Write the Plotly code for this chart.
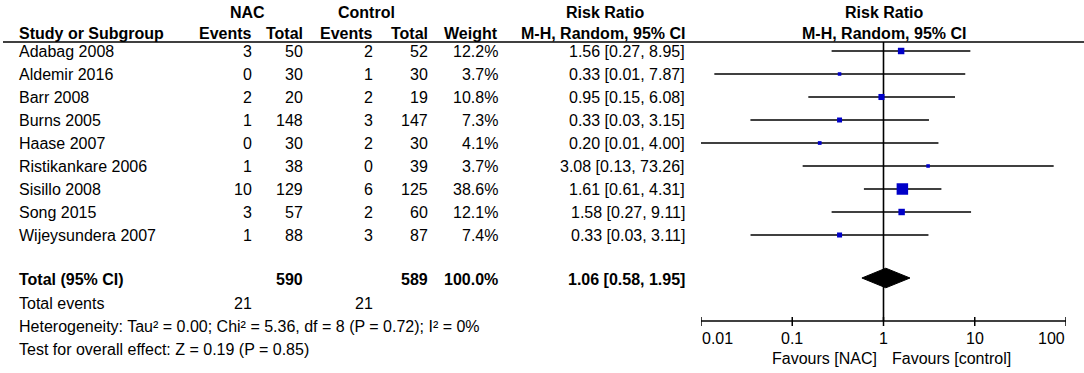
import math
import plotly.graph_objects as go

# ---------------- data ----------------
studies = ["Adabag 2008", "Aldemir 2016", "Barr 2008", "Burns 2005", "Haase 2007",
           "Ristikankare 2006", "Sisillo 2008", "Song 2015", "Wijeysundera 2007"]
nac_events = [3, 0, 2, 1, 0, 1, 10, 3, 1]
nac_total = [50, 30, 20, 148, 30, 38, 129, 57, 88]
ctrl_events = [2, 1, 2, 3, 2, 0, 6, 2, 3]
ctrl_total = [52, 30, 19, 147, 30, 39, 125, 60, 87]
weights = [12.2, 3.7, 10.8, 7.3, 4.1, 3.7, 38.6, 12.1, 7.4]
rr = [1.56, 0.33, 0.95, 0.33, 0.20, 3.08, 1.61, 1.58, 0.33]
ci_lo = [0.27, 0.014, 0.15, 0.0348, 0.0100, 0.13, 0.61, 0.27, 0.0349]
ci_hi = [8.95, 7.87, 6.08, 3.15, 4.00, 73.26, 4.31, 9.11, 3.11]

total_nac = 590
total_ctrl = 589
total_weight = 100.0
total_rr = 1.06
total_lo = 0.58
total_hi = 1.95
total_events_nac = 21
total_events_ctrl = 21
heterogeneity = "Heterogeneity: Tau² = 0.00; Chi² = 5.36, df = 8 (P = 0.72); I² = 0%"
overall = "Test for overall effect: Z = 0.19 (P = 0.85)"

tick_vals = [0.01, 0.1, 1, 10, 100]
tick_text = ["0.01", "0.1", "1", "10", "100"]

# ---------------- layout constants (pixels) ----------------
W, H = 1084, 373
FONT = "Arial, Liberation Sans, sans-serif"
FS = 16
row_y0, row_dy = 51, 23
total_y = 279
events_y = 303
het_y = 326
test_y = 349
axis_y = 321
header1_y = 12
header2_y = 33
hline_y = 42

col_name = 17
col_ne = 254
col_nt = 305
col_ce = 375
col_ct = 430
col_w = 500
col_rr = 687

def px(x):
    return x / W

fig = go.Figure()
ann = []

def text(x, y, s, anchor="left", bold=False, size=FS):
    ann.append(dict(x=px(x), y=y, xref="paper", yref="y", text=f"<b>{s}</b>" if bold else s,
                    showarrow=False, xanchor=anchor, yanchor="middle",
                    font=dict(family=FONT, size=size, color="black")))

# headers
text(247, header1_y, "NAC", "center", True)
text(366, header1_y, "Control", "center", True)
text(605, header1_y, "Risk Ratio", "center", True)
text(col_name, header2_y, "Study or Subgroup", "left", True)
text(col_ne, header2_y, "Events", "right", True)
text(col_nt, header2_y, "Total", "right", True)
text(col_ce, header2_y, "Events", "right", True)
text(col_ct, header2_y, "Total", "right", True)
text(col_w, header2_y, "Weight", "right", True)
text(col_rr, header2_y, "M-H, Random, 95% CI", "right", True)
ann.append(dict(x=0, y=header1_y, xref="x", yref="y", text="<b>Risk Ratio</b>", showarrow=False,
                xanchor="center", yanchor="middle", font=dict(family=FONT, size=FS, color="black")))
ann.append(dict(x=0, y=header2_y, xref="x", yref="y", text="<b>M-H, Random, 95% CI</b>", showarrow=False,
                xanchor="center", yanchor="middle", font=dict(family=FONT, size=FS, color="black")))

row_ys = []
for i, s in enumerate(studies):
    y = row_y0 + row_dy * i
    row_ys.append(y)
    text(col_name, y, s)
    text(col_ne, y, str(nac_events[i]), "right")
    text(col_nt, y, str(nac_total[i]), "right")
    text(col_ce, y, str(ctrl_events[i]), "right")
    text(col_ct, y, str(ctrl_total[i]), "right")
    text(col_w, y, f"{weights[i]:.1f}%", "right")
    text(col_rr, y, f"{rr[i]:.2f} [{ci_lo[i]:.2f}, {ci_hi[i]:.2f}]", "right")

text(col_name, total_y, "Total (95% CI)", "left", True)
text(col_nt, total_y, str(total_nac), "right", True)
text(col_ct, total_y, str(total_ctrl), "right", True)
text(col_w, total_y, f"{total_weight:.1f}%", "right", True)
text(col_rr, total_y, f"{total_rr:.2f} [{total_lo:.2f}, {total_hi:.2f}]", "right", True)
text(col_name, events_y, "Total events")
text(col_ne, events_y, str(total_events_nac), "right")
text(col_ce, events_y, str(total_events_ctrl), "right")
text(col_name, het_y, heterogeneity)
text(col_name, test_y, overall)

# tick labels (ends kept inside the axis span)
for v, t in zip(tick_vals, tick_text):
    anchor = "center"
    if v == tick_vals[0]:
        anchor = "left"
    elif v == tick_vals[-1]:
        anchor = "right"
    ann.append(dict(x=math.log10(v), y=338, xref="x", yref="y", text=t, showarrow=False,
                    xanchor=anchor, yanchor="middle", xshift=(-1 if anchor == "left" else (1 if anchor == "right" else 0)),
                    font=dict(family=FONT, size=FS, color="black")))
ann.append(dict(x=0, y=358, xref="x", yref="y", text="Favours [NAC]", showarrow=False,
                xanchor="right", yanchor="middle", xshift=-5, font=dict(family=FONT, size=FS, color="black")))
ann.append(dict(x=0, y=358, xref="x", yref="y", text="Favours [control]", showarrow=False,
                xanchor="left", yanchor="middle", xshift=6, font=dict(family=FONT, size=FS, color="black")))

# CI lines
cx, cy = [], []
for lo, hi, y in zip(ci_lo, ci_hi, row_ys):
    cx += [lo, hi, None]
    cy += [y, y, None]
fig.add_trace(go.Scatter(x=cx, y=cy, mode="lines", line=dict(color="black", width=1.4),
                         hoverinfo="skip", showlegend=False))

# reference line at 1
fig.add_trace(go.Scatter(x=[1, 1], y=[hline_y, axis_y], mode="lines",
                         line=dict(color="black", width=1.6), hoverinfo="skip", showlegend=False))

# axis line with ticks
axx, axy = [tick_vals[0], tick_vals[-1], None], [axis_y, axis_y, None]
for v in tick_vals:
    axx += [v, v, None]
    axy += [axis_y - 4, axis_y + 5, None]
fig.add_trace(go.Scatter(x=axx, y=axy, mode="lines", line=dict(color="black", width=1.5),
                         hoverinfo="skip", showlegend=False))

# squares
sizes = [11.5 * math.sqrt(w / max(weights)) for w in weights]
fig.add_trace(go.Scatter(x=rr, y=row_ys, mode="markers",
                         marker=dict(symbol="square", size=sizes, color="rgb(0,0,200)", opacity=1,
                                     line=dict(width=0)),
                         hoverinfo="skip", showlegend=False))

# diamond
dh = 9.8
dy = total_y - 1
fig.add_trace(go.Scatter(x=[total_lo, total_rr, total_hi, total_rr, total_lo],
                         y=[dy, dy - dh, dy, dy + dh, dy], mode="lines", fill="toself",
                         fillcolor="black", line=dict(color="black", width=1),
                         hoverinfo="skip", showlegend=False))

shapes = [dict(type="line", xref="paper", yref="y", x0=px(3), x1=1, y0=hline_y, y1=hline_y,
               line=dict(color="black", width=1.5))]

fig.update_layout(
    width=W, height=H, margin=dict(l=0, r=0, t=0, b=0),
    paper_bgcolor="white", plot_bgcolor="white",
    xaxis=dict(type="log", range=[-2, 2], domain=[px(701), px(1066)], visible=False, fixedrange=True),
    yaxis=dict(range=[H, 0], domain=[0, 1], visible=False, fixedrange=True),
    annotations=ann, shapes=shapes, showlegend=False,
)
fig.write_html("out.html", config={"displayModeBar": False},
               post_script="document.body.style.margin='0';document.body.style.overflow='hidden';")
